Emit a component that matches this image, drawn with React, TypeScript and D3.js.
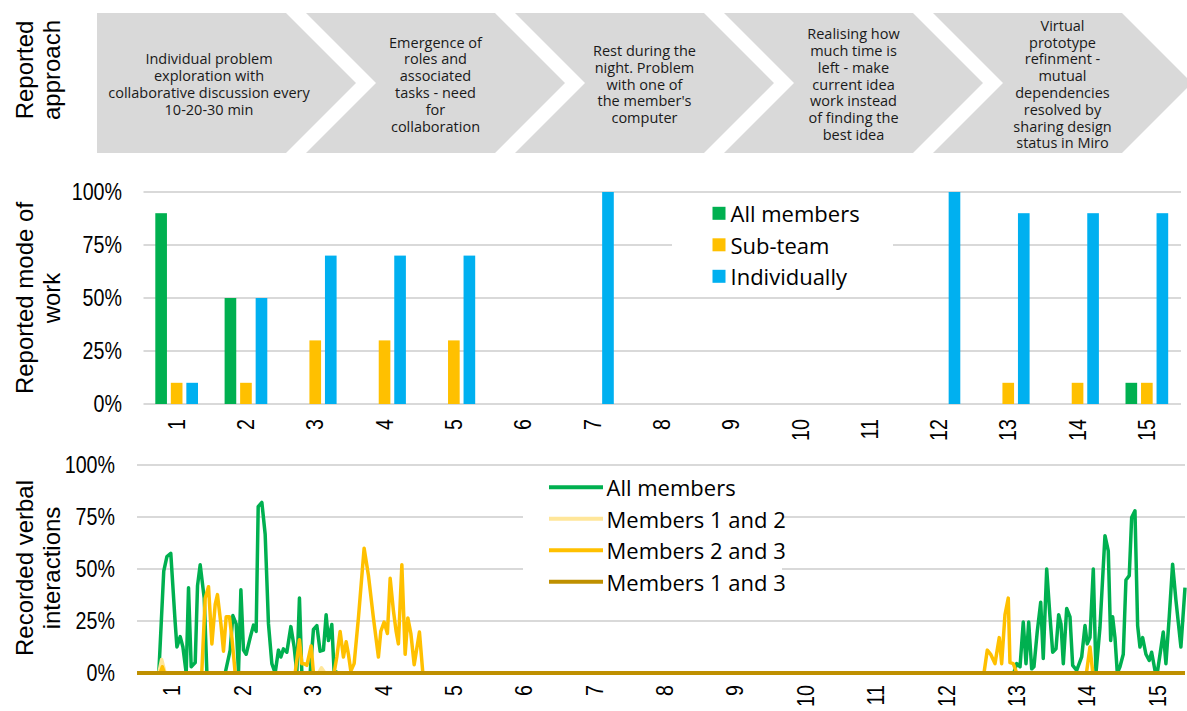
import React from "react";
import * as d3 from "d3";

// ---------------- DATA ----------------
const approachTexts: string[][] = [
  ["Individual problem", "exploration with", "collaborative discussion every", "10-20-30 min"],
  ["Emergence of", "roles and", "associated", "tasks - need", "for", "collaboration"],
  ["Rest during the", "night. Problem", "with one of", "the member's", "computer"],
  ["Realising how", "much time is", "left - make", "current idea", "work instead", "of finding the", "best idea"],
  ["Virtual", "prototype", "refinment -", "mutual", "dependencies", "resolved by", "sharing design", "status in Miro"],
];

const categories = ["1", "2", "3", "4", "5", "6", "7", "8", "9", "10", "11", "12", "13", "14", "15"];
const barSeries = ["All members", "Sub-team", "Individually"];
const allMembersBar = [0.9, 0.5, 0, 0, 0, 0, 0, 0, 0, 0, 0, 0, 0, 0, 0.1];
const subTeamBar = [0.1, 0.1, 0.3, 0.3, 0.3, 0, 0, 0, 0, 0, 0, 0, 0.1, 0.1, 0.1];
const individuallyBar = [0.1, 0.5, 0.7, 0.7, 0.7, 0, 1, 0, 0, 0, 0, 1, 0.9, 0.9, 0.9];
const percentTicks = [0, 0.25, 0.5, 0.75, 1];

const lineSeries = ["All members", "Members 1 and 2", "Members 2 and 3", "Members 1 and 3"];
// [time in category units, share]
const allMembersLine: [number, number][] = [
  [0.5, 0], [0.81, 0], [0.88, 0.49], [0.925, 0.56], [0.98, 0.575], [1.043, 0.24], [1.067, 0.125], [1.114, 0.175],
  [1.152, 0.125], [1.199, 0], [1.232, 0.41], [1.27, 0.03], [1.327, 0.05], [1.36, 0.42], [1.398, 0.52], [1.455, 0.36],
  [1.493, 0], [1.753, 0], [1.824, 0.11], [1.862, 0.276], [1.909, 0.236], [1.942, 0], [1.976, 0.4], [2.013, 0.11],
  [2.051, 0.09], [2.108, 0.17], [2.155, 0.23], [2.193, 0.2], [2.222, 0.8], [2.274, 0.82], [2.321, 0.667], [2.368, 0.236],
  [2.416, 0.045], [2.463, 0], [2.51, 0.11], [2.544, 0.077], [2.581, 0.116], [2.629, 0.1], [2.686, 0.223], [2.733, 0.125],
  [2.771, 0], [2.808, 0.36], [2.842, 0], [2.96, 0], [3.007, 0.21], [3.055, 0.228], [3.102, 0.105], [3.149, 0.11],
  [3.187, 0.28], [3.22, 0.156], [3.268, 0.233], [3.3, 0.01], [3.36, 0],
  [12.957, 0], [12.999, 0.045], [13.046, 0.03], [13.092, 0.245], [13.131, 0.045], [13.169, 0.245], [13.212, 0.02],
  [13.244, 0.03], [13.291, 0.2], [13.34, 0.34], [13.376, 0.07], [13.425, 0.5], [13.472, 0.27], [13.51, 0.1],
  [13.557, 0.116], [13.595, 0.28], [13.628, 0.236], [13.661, 0.045], [13.709, 0.31], [13.756, 0.27], [13.794, 0.037],
  [13.851, 0.013], [13.922, 0.077], [13.969, 0.228], [14.001, 0.14], [14.04, 0.17], [14.087, 0.5], [14.125, 0],
  [14.182, 0.22], [14.253, 0.66], [14.3, 0.587], [14.334, 0.156], [14.362, 0.27], [14.395, 0.17], [14.428, 0],
  [14.466, 0.03], [14.513, 0.09], [14.551, 0.447], [14.598, 0.468], [14.632, 0.747], [14.679, 0.78], [14.717, 0.228],
  [14.75, 0.125], [14.788, 0.17], [14.835, 0.09], [14.882, 0.06], [14.916, 0.1], [14.963, 0.013], [14.996, 0],
  [15.044, 0.11], [15.081, 0.197], [15.119, 0.045], [15.166, 0.27], [15.214, 0.523], [15.261, 0.35], [15.332, 0.125],
  [15.39, 0.41],
];
const members12Line: [number, number][] = [
  [0.5, 0], [0.81, 0], [0.85, 0.065], [0.9, 0], [3.08, 0], [3.12, 0.025], [3.17, 0], [15.39, 0],
];
const members23Line: [number, number][] = [
  [0.5, 0], [0.83, 0], [0.86, 0.03], [0.89, 0], [1.42, 0], [1.469, 0.36], [1.516, 0.415], [1.564, 0.14], [1.611, 0.33],
  [1.643, 0.377], [1.692, 0.236], [1.729, 0.105], [1.767, 0.27], [1.814, 0.27], [1.848, 0.17], [1.895, 0], [2.747, 0],
  [2.808, 0.16], [2.842, 0.045], [2.875, 0.045], [2.913, 0.037], [2.974, 0.13], [3.007, 0], [3.3, 0], [3.339, 0.077],
  [3.386, 0.2], [3.433, 0.077], [3.472, 0.15], [3.504, 0.09], [3.538, 0.01], [3.585, 0.045], [3.646, 0.265],
  [3.727, 0.6], [3.788, 0.47], [3.859, 0.265], [3.93, 0.077], [3.964, 0.2], [4.011, 0.245], [4.058, 0.19],
  [4.097, 0.455], [4.143, 0.3], [4.182, 0.2], [4.214, 0.14], [4.263, 0.52], [4.31, 0.09], [4.348, 0.265],
  [4.391, 0.19], [4.438, 0.04], [4.513, 0.197], [4.561, 0], [12.534, 0], [12.581, 0.11], [12.629, 0.09],
  [12.69, 0.045], [12.751, 0.17], [12.785, 0.045], [12.832, 0.28], [12.879, 0.36], [12.903, 0.05], [12.95, 0.045],
  [12.999, 0], [13.99, 0], [14.04, 0.125], [14.08, 0], [15.39, 0],
];
const members13Line: [number, number][] = [[0.5, 0], [15.39, 0]];

// ---------------- STYLE ----------------
const W = 1187;
const H = 711;
const GREEN = "#00B050";
const YELLOW = "#FFC000";
const BLUE = "#00B0F0";
const LIGHTYELLOW = "#FFE699";
const GOLD = "#BF9000";
const GRID = "#D9D9D9";
const CHEVRON = "#D9D9D9";
const FONT_TEXT = "'Open Sans', 'DejaVu Sans', sans-serif";
const FONT_TICK = "'Liberation Sans', Arial, sans-serif";
const FONT_TITLE = "'Liberation Sans', Arial, sans-serif";
const NARROW = 0.82;

function RotTitle({ lines, cy, xs }: { lines: string[]; cy: number; xs: number[] }) {
  return (
    <g>
      {lines.map((l, i) => (
        <text
          key={i}
          transform={`translate(${xs[i]},${cy}) rotate(-90)`}
          textAnchor="middle"
          dominantBaseline="central"
          fontFamily={FONT_TITLE}
          fontSize={24}
          fill="#000"
        >
          {l}
        </text>
      ))}
    </g>
  );
}

function TickText({ x, y, rotate, anchor, children }: { x: number; y: number; rotate?: boolean; anchor: string; children: any }) {
  return (
    <text
      transform={`translate(${x},${y})${rotate ? " rotate(-90)" : ""} scale(${NARROW},1)`}
      textAnchor={anchor}
      dominantBaseline="central"
      fontFamily={FONT_TICK}
      fontSize={24}
      fill="#000"
    >
      {children}
    </text>
  );
}

export default function App() {
  // ---------- chevrons ----------
  const chevTop = 13, chevBot = 153, chevMid = 83;
  const chevX0 = d3.scaleLinear().domain([0, 1]).range([97, 306]);
  const chevBody = 189, chevDepth = 70;

  // ---------- bar chart ----------
  const barY = d3.scaleLinear().domain([0, 1]).range([404, 192]);
  const barX = d3.scaleBand<string>().domain(categories).range([142, 1181.5]).padding(0);
  const inner = d3
    .scaleBand<string>()
    .domain(barSeries)
    .range([0, barX.bandwidth()])
    .paddingInner(0.25)
    .paddingOuter(0.857);
  const barColors = [GREEN, YELLOW, BLUE];
  const barData = [allMembersBar, subTeamBar, individuallyBar];

  // ---------- line chart ----------
  const lineY = d3.scaleLinear().domain([0, 1]).range([673, 465]);
  const lineX = d3.scaleLinear().domain([0.5, 15.39]).range([137, 1185]);
  const lineGen = d3
    .line<[number, number]>()
    .x((d) => lineX(d[0]))
    .y((d) => lineY(d[1]));
  const lines = [
    { name: lineSeries[0], data: allMembersLine, color: GREEN, w: 3.5 },
    { name: lineSeries[1], data: members12Line, color: LIGHTYELLOW, w: 3.5 },
    { name: lineSeries[2], data: members23Line, color: YELLOW, w: 3.5 },
    { name: lineSeries[3], data: members13Line, color: GOLD, w: 4 },
  ];

  return (
    <svg
      width={W}
      height={H}
      viewBox={`0 0 ${W} ${H}`}
      style={{ position: "absolute", left: 0, top: 0, background: "#fff" }}
    >
      <rect x={0} y={0} width={W} height={H} fill="#fff" />

      {/* ---------- Reported approach ---------- */}
      <RotTitle lines={["Reported", "approach"]} cy={70} xs={[24, 51]} />
      {approachTexts.map((txt, i) => {
        const x0 = chevX0(i);
        const pts =
          i === 0
            ? [
                [x0, chevTop],
                [x0 + chevBody, chevTop],
                [x0 + chevBody + chevDepth, chevMid],
                [x0 + chevBody, chevBot],
                [x0, chevBot],
              ]
            : [
                [x0, chevTop],
                [x0 + chevBody, chevTop],
                [x0 + chevBody + chevDepth, chevMid],
                [x0 + chevBody, chevBot],
                [x0, chevBot],
                [x0 + chevDepth, chevMid],
              ];
        const cx = i === 0 ? (x0 + x0 + chevBody + chevDepth / 2) / 2 : x0 + (chevDepth + chevBody) / 2;
        const lh = 16.8;
        const start = chevMid + 1 - ((txt.length - 1) * lh) / 2;
        return (
          <g key={i}>
            <polygon points={pts.map((p) => p.join(",")).join(" ")} fill={CHEVRON} />
            {txt.map((l, j) => (
              <text
                key={j}
                x={cx}
                y={start + j * lh}
                textAnchor="middle"
                dominantBaseline="central"
                fontFamily={FONT_TEXT}
                fontSize={14.5}
                fill="#1a1a1a"
              >
                {l}
              </text>
            ))}
          </g>
        );
      })}

      {/* ---------- Bar chart ---------- */}
      <RotTitle lines={["Reported mode of", "work"]} cy={298} xs={[24, 51]} />
      {percentTicks.map((t) => (
        <g key={t}>
          <line x1={143.5} x2={1181} y1={barY(t)} y2={barY(t)} stroke={GRID} strokeWidth={2} />
          <TickText x={122} y={barY(t)} anchor="end">
            {Math.round(t * 100) + "%"}
          </TickText>
        </g>
      ))}
      {barData.map((vals, si) =>
        vals.map((v, ci) =>
          v > 0 ? (
            <rect
              key={si + "-" + ci}
              x={(barX(categories[ci]) as number) + (inner(barSeries[si]) as number)}
              y={barY(v)}
              width={inner.bandwidth()}
              height={barY(0) - barY(v)}
              fill={barColors[si]}
            />
          ) : null
        )
      )}
      {categories.map((c) => (
        <TickText key={c} x={(barX(c) as number) + barX.bandwidth() / 2} y={419} rotate anchor="end">
          {c}
        </TickText>
      ))}
      {/* bar legend */}
      <rect x={672} y={197} width={221} height={95} fill="#fff" />
      {barSeries.map((s, i) => {
        const cy = 213.3 + i * 31.5;
        return (
          <g key={s}>
            <rect x={712.5} y={cy - 6.5} width={13} height={13} fill={barColors[i]} />
            <text
              x={730.5}
              y={cy}
              dominantBaseline="central"
              fontFamily={FONT_TEXT}
              fontSize={22}
              fill="#000"
            >
              {s}
            </text>
          </g>
        );
      })}

      {/* ---------- Line chart ---------- */}
      <RotTitle lines={["Recorded verbal", "interactions"]} cy={568} xs={[24, 51]} />
      {percentTicks.map((t) => (
        <g key={t}>
          <line x1={137} x2={1185} y1={lineY(t)} y2={lineY(t)} stroke={GRID} strokeWidth={2} />
          <TickText x={115} y={lineY(t)} anchor="end">
            {Math.round(t * 100) + "%"}
          </TickText>
        </g>
      ))}
      {/* line legend background */}
      <rect x={523} y={471} width={259} height={126} fill="#fff" />
      {lines.map((l) => (
        <path
          key={l.name}
          d={lineGen(l.data) as string}
          fill="none"
          stroke={l.color}
          strokeWidth={l.w}
          strokeLinejoin="round"
          strokeLinecap="butt"
        />
      ))}
      {categories.map((c, i) => (
        <TickText key={c} x={lineX(i + 1)} y={685} rotate anchor="end">
          {c}
        </TickText>
      ))}
      {lines.map((l, i) => {
        const cy = 487.3 + i * 31.5;
        return (
          <g key={"lg" + l.name}>
            <line x1={549} x2={603} y1={cy} y2={cy} stroke={l.color} strokeWidth={4} />
            <text
              x={606.5}
              y={cy}
              dominantBaseline="central"
              fontFamily={FONT_TEXT}
              fontSize={22}
              fill="#000"
            >
              {l.name}
            </text>
          </g>
        );
      })}
    </svg>
  );
}
